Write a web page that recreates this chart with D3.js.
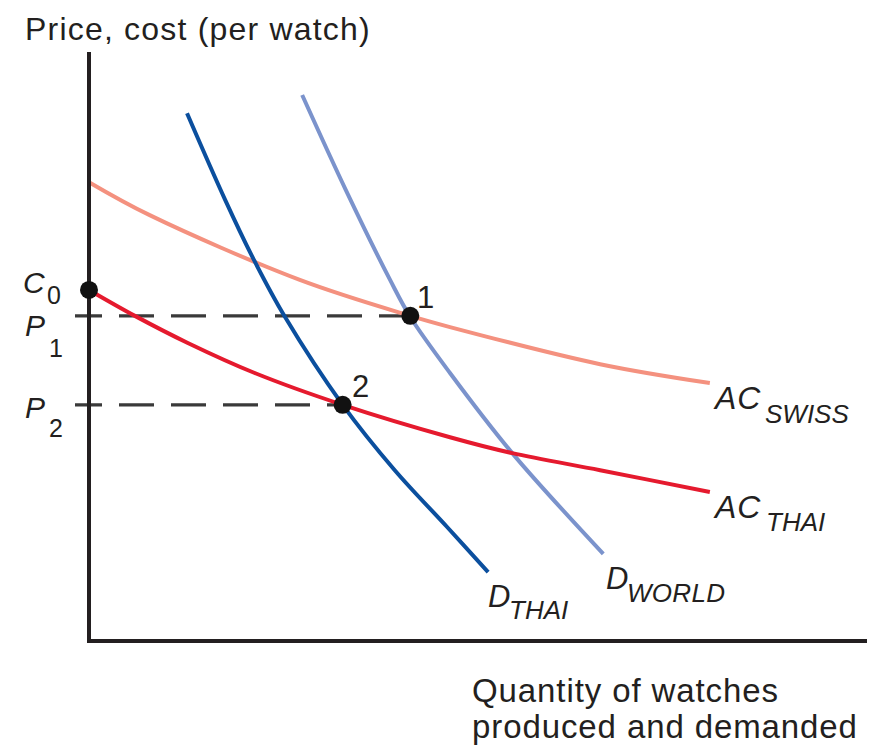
<!DOCTYPE html>
<html>
<head>
<meta charset="utf-8">
<script src="https://cdn.jsdelivr.net/npm/d3@7"></script>
<style>
  html, body { margin: 0; padding: 0; background: #fff; }
  svg { display: block; }
  text { font-family: "Liberation Sans", Arial, Helvetica, sans-serif; fill: #231f20; }
</style>
</head>
<body>
<script>
// ---- Data (abstract units: quantity 0-100, price/cost 0-100) ----
const acSwissQ = [0, 7.8, 27.1, 41.3, 46.4, 65.7, 79.8];
const acSwissP = [77.9, 72.3, 61.3, 55.2, 53.3, 47.0, 43.8];

const acThaiQ = [0, 5.9, 12.7, 21.3, 32.6, 46.4, 54.4, 65.7, 79.8];
const acThaiP = [59.6, 55.2, 50.6, 45.5, 40.1, 34.6, 31.9, 29.0, 25.3];

const dThaiQ = [12.6, 17.5, 21.2, 25.2, 32.6, 39.3, 46.0, 51.3];
const dThaiP = [89.6, 74.9, 64.7, 55.0, 40.1, 29.0, 19.4, 11.7];

const dWorldQ = [27.4, 33.0, 38.7, 41.3, 46.4, 54.4, 66.1];
const dWorldP = [92.7, 76.6, 61.3, 55.0, 45.5, 31.9, 14.8];

const pointNames = ["C0", "1", "2"];
const pointQ = [0, 41.3, 32.6];
const pointP = [59.6, 55.2, 40.1];

const priceLevels = ["P1", "P2"];
const priceValues = [55.2, 40.1];
const priceQ = [41.3, 32.6];

// ---- Layout ----
const W = 869, H = 747;
const svg = d3.select("body").append("svg").attr("width", W).attr("height", H);

const x = d3.scaleLinear().domain([0, 100]).range([89, 867]);
const y = d3.scaleLinear().domain([0, 100]).range([641, 52]);

const line = d3.line().x(d => x(d[0])).y(d => y(d[1])).curve(d3.curveCatmullRom.alpha(0.5));
const zip = (a, b) => a.map((v, i) => [v, b[i]]);

// Dashed price lines
priceValues.forEach((p, i) => {
  svg.append("line")
    .attr("x1", x(0) - 14).attr("x2", x(priceQ[i]))
    .attr("y1", y(p)).attr("y2", y(p))
    .attr("stroke", "#3a3a3a").attr("stroke-width", 3.2)
    .attr("stroke-dasharray", "35,17").attr("stroke-dashoffset", 8);
});

// Curves
const curves = [
  { q: acSwissQ, p: acSwissP, color: "#f4917f" },
  { q: dWorldQ, p: dWorldP, color: "#7b93cc" },
  { q: acThaiQ, p: acThaiP, color: "#e51a2e" },
  { q: dThaiQ, p: dThaiP, color: "#0b4f9e" }
];
curves.forEach(c => {
  svg.append("path")
    .attr("d", line(zip(c.q, c.p)))
    .attr("fill", "none")
    .attr("stroke", c.color)
    .attr("stroke-width", 4);
});

// Axes
svg.append("line").attr("x1", x(0)).attr("x2", x(0)).attr("y1", y(100)).attr("y2", y(0) + 2)
  .attr("stroke", "#231f20").attr("stroke-width", 4);
svg.append("line").attr("x1", x(0) - 2).attr("x2", x(100)).attr("y1", y(0)).attr("y2", y(0))
  .attr("stroke", "#231f20").attr("stroke-width", 4);

// Points
pointQ.forEach((q, i) => {
  svg.append("circle").attr("cx", x(q)).attr("cy", y(pointP[i])).attr("r", 9).attr("fill", "#111");
});

// Text helpers
function label(tx, ty, str, size, italic) {
  return svg.append("text").attr("x", tx).attr("y", ty)
    .attr("font-size", size)
    .attr("font-style", italic ? "italic" : "normal")
    .text(str);
}

// Axis titles
label(25, 40, "Price, cost (per watch)", 32).attr("letter-spacing", 1.2);
label(472, 702, "Quantity of watches", 33).attr("letter-spacing", 0.9);
label(472, 738, "produced and demanded", 33).attr("letter-spacing", 0.9);

// Y-axis labels
label(23, 293, "C", 30, true);
label(47, 304, "0", 25, false);
label(25, 336, "P", 30, true);
label(49, 357, "1", 25, false);
label(25, 418, "P", 30, true);
label(49, 437, "2", 25, false);

// Point labels
label(417, 308, "1", 31, false);
label(352, 397, "2", 31, false);

// Curve labels
label(715, 409, "AC", 32, true).attr("letter-spacing", 1);
label(765, 423, "SWISS", 26, true).attr("letter-spacing", 0);
label(715, 518, "AC", 32, true).attr("letter-spacing", 1);
label(766, 531, "THAI", 26, true).attr("letter-spacing", 0);
label(606, 589, "D", 31, true);
label(627, 602, "WORLD", 26, true).attr("letter-spacing", 0.3);
label(488, 607, "D", 31, true);
label(509, 619, "THAI", 26, true).attr("letter-spacing", 0);
</script>
</body>
</html>
